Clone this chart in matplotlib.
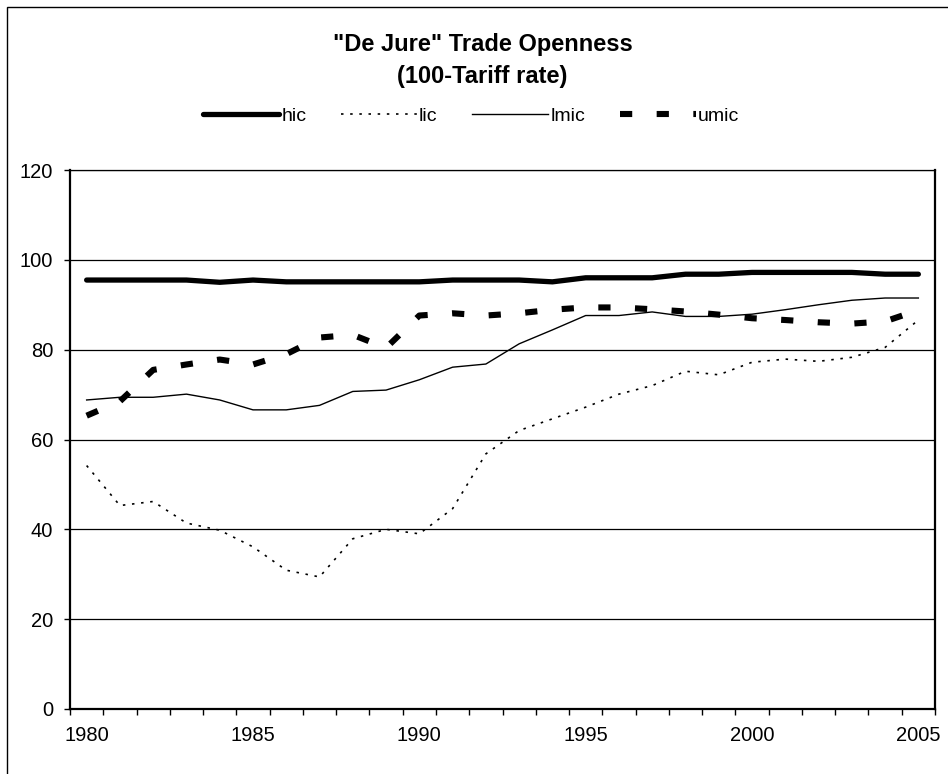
import matplotlib
matplotlib.use('Agg')
import matplotlib.pyplot as plt
from matplotlib.patches import Rectangle

plt.rcParams['font.family'] = ['Liberation Sans', 'DejaVu Sans']

years = list(range(1980, 2006))
hic = [95.5, 95.5, 95.5, 95.5, 95.0, 95.5, 95.1, 95.1, 95.1, 95.1, 95.1, 95.5, 95.5, 95.5, 95.1,
       96.0, 96.0, 96.0, 96.8, 96.8, 97.2, 97.2, 97.2, 97.2, 96.8, 96.8]
lic = [54.2, 45.3, 46.2, 41.4, 39.8, 36.1, 30.9, 29.4, 37.9, 40.0, 39.0, 44.6, 56.8, 62.0, 64.6,
       67.2, 70.1, 72.0, 75.2, 74.4, 77.2, 77.9, 77.4, 78.3, 80.5, 86.6]
lmic = [68.8, 69.4, 69.4, 70.1, 68.8, 66.6, 66.6, 67.6, 70.7, 71.0, 73.3, 76.1, 76.8, 81.3, 84.4,
        87.6, 87.6, 88.4, 87.4, 87.4, 87.9, 88.9, 90.0, 91.0, 91.5, 91.5]
umic = [65.3, 68.5, 75.5, 76.7, 77.8, 76.7, 79.0, 82.7, 83.3, 80.4, 87.6, 88.1, 87.6, 88.1, 88.9,
        89.4, 89.4, 89.0, 88.5, 87.8, 87.0, 86.6, 86.1, 85.8, 86.3, 88.8]
year_labels = [1980, 1985, 1990, 1995, 2000, 2005]
y_ticks = [0, 20, 40, 60, 80, 100, 120]

fig = plt.figure(figsize=(9.48, 7.74), dpi=100)
ax = fig.add_axes([70 / 948, 1 - 709 / 774, 865 / 948, 539 / 774])

# outer chart border (runs off right and bottom edge)
fig.patches.append(Rectangle((7 / 948, -0.05), 1.1, 1 - 7 / 774 + 0.05, transform=fig.transFigure,
                             fill=False, edgecolor='black', linewidth=1.0))

ax.plot(years, hic, color='black', linewidth=3.8, solid_capstyle='round', label='hic', zorder=5)
ax.plot(years, lic, color='black', linewidth=1.2, linestyle=(0, (1.5, 4)), label='lic', zorder=4)
ax.plot(years, lmic, color='black', linewidth=1.0, label='lmic', zorder=4)
ax.plot(years, umic, color='black', linewidth=4.4, linestyle=(0, (2, 4)), label='umic', zorder=4)

ax.set_xlim(1979.5, 2005.5)
ax.set_ylim(0, 120)
ax.set_yticks(y_ticks)
ax.set_xticks(year_labels)
ax.set_xticks([y - 0.5 for y in years] + [2005.5], minor=True)
ax.tick_params(axis='x', which='major', length=0, pad=12, labelsize=14.5)
ax.tick_params(axis='x', which='minor', direction='out', length=4, width=1)
ax.tick_params(axis='y', direction='out', length=4, width=1, pad=8, labelsize=14.5)
ax.yaxis.grid(True, color='black', linewidth=0.9)
ax.set_axisbelow(True)
for side in ['left', 'bottom', 'right']:
    ax.spines[side].set_linewidth(1.6)
ax.spines['top'].set_linewidth(0.9)

fig.text(0.509, 1 - 44 / 774, '"De Jure" Trade Openness', ha='center', va='center',
         fontsize=17, fontweight='bold')
fig.text(0.509, 1 - 77 / 774, '(100-Tariff rate)', ha='center', va='center',
         fontsize=17, fontweight='bold')

fig.legend(loc='center', bbox_to_anchor=(0.497, 1 - 116 / 774), ncol=4, frameon=False,
           fontsize=14, handlelength=3.9, handletextpad=0.1, columnspacing=1.8)

fig.savefig('out.png', dpi=100)
